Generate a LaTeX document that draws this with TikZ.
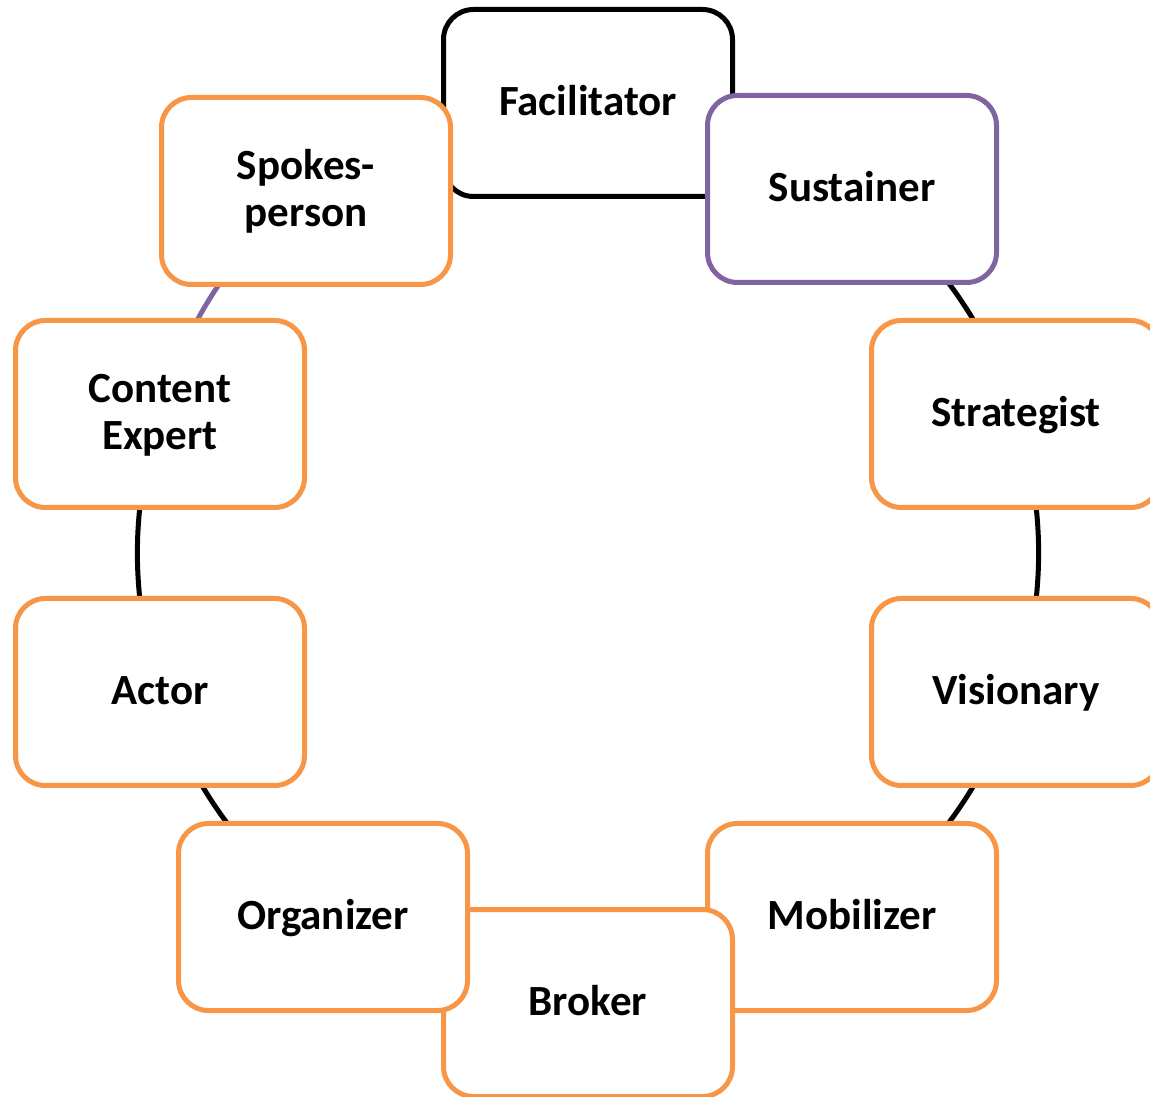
\documentclass[tikz,border=0pt]{standalone}
\usepackage{fontspec}
\setmainfont{Carlito}
\usetikzlibrary{backgrounds}

\newlength{\du}
\setlength{\du}{0.02cm}
\definecolor{roleorange}{rgb}{0.968627, 0.588235, 0.274510}
\definecolor{rolepurple}{rgb}{0.501961, 0.392157, 0.635294}
\newcommand{\rl}{\rule[-6pt]{0pt}{26pt}}

\tikzset{
  rolebox/.style={draw=roleorange, fill=white, line width=5\du, rounded corners=30\du,
    minimum width=289\du, minimum height=187\du, inner sep=0pt, align=center,
    font=\bfseries\fontsize{24.5}{26.6}\selectfont},
  rolelink/.style={draw=black, line width=5\du, bend left=18, looseness=0.9},
}

\begin{document}
\begin{tikzpicture}
\pgftransformyscale{-1.000000}
\useasboundingbox (0\du,0\du) rectangle (1150\du,1097\du);
% boxes, in cycle order (each one over the one before)
\node[rolebox,draw=black] (fac) at (588\du,103\du){Facilitator\rl};
\node[rolebox,draw=rolepurple] (sus) at (852\du,189\du){Sustainer\rl};
\node[rolebox] (str) at (1016\du,414\du){Strategist\rl};
\node[rolebox] (vis) at (1016\du,692\du){Visionary\rl};
\node[rolebox] (mob) at (852\du,917\du){Mobilizer\rl};
\node[rolebox] (bro) at (588\du,1003\du){Broker\rl};
\node[rolebox] (org) at (323\du,917\du){Organizer\rl};
\node[rolebox] (act) at (160\du,692\du){Actor\rl};
\node[rolebox] (cex) at (160\du,414\du){Content\rl\\Expert\rl};
\node[rolebox] (spk) at (306\du,191\du){Spokes-\rl\\person\rl};
% arcs of the cycle, under the boxes
\begin{scope}[on background layer]
\draw[rolelink] (fac.center) to (spk.center);
\draw[rolelink,draw=rolepurple] (spk.center) to (cex.center);
\draw[rolelink] (cex.center) to (act.center);
\draw[rolelink] (act.center) to (org.center);
\draw[rolelink] (org.center) to (bro.center);
\draw[rolelink] (bro.center) to (mob.center);
\draw[rolelink] (mob.center) to (vis.center);
\draw[rolelink] (vis.center) to (str.center);
\draw[rolelink] (str.center) to (sus.center);
\draw[rolelink] (sus.center) to (fac.center);
\end{scope}
\end{tikzpicture}
\end{document}
